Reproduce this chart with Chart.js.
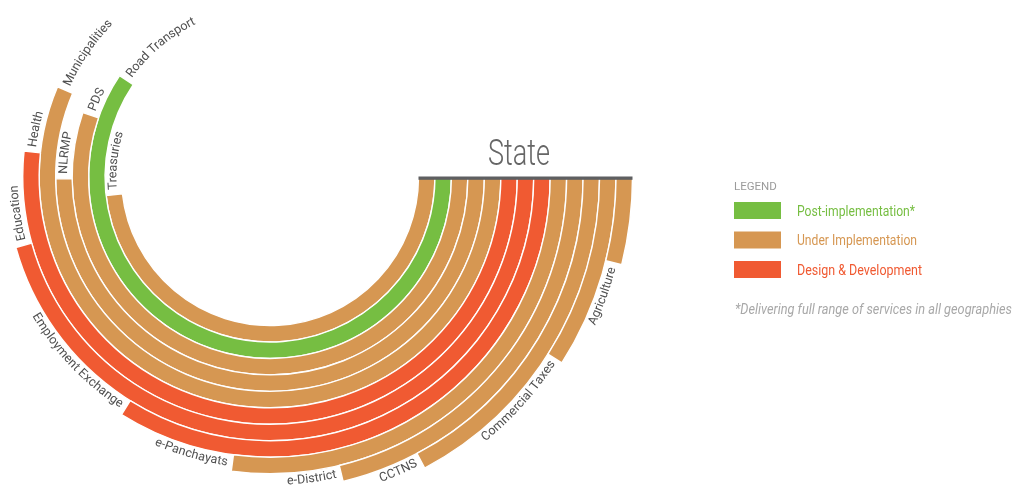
<!DOCTYPE html>
<html>
<head>
<meta charset="utf-8">
<script src="https://cdn.jsdelivr.net/npm/chart.js@4/dist/chart.umd.min.js"></script>
<style>
  html, body { margin: 0; padding: 0; background: #fff; overflow: hidden; }
  #wrap { position: relative; width: 1013px; height: 485px; }
</style>
</head>
<body>
<div id="wrap"><canvas id="chart-rings"></canvas></div>
<script>
// rings listed outer -> inner (Chart.js draws dataset 0 as the outer ring)
const services = ['Agriculture', 'Commercial Taxes', 'CCTNS', 'e-District', 'e-Panchayats',
  'Employment Exchange', 'Education', 'Health', 'Municipalities', 'NLRMP', 'PDS',
  'Road Transport', 'Treasuries'];
// sweep of each ring in degrees, clockwise from 3 o'clock
const sweep = [14, 32.5, 62, 76.5, 97.5, 122, 164.5, 186, 203, 179.5, 199, 214, 173.5];
const status = ['under', 'under', 'under', 'under', 'under', 'design', 'design', 'design',
  'under', 'under', 'under', 'post', 'under'];

const legendKeys = ['post', 'under', 'design'];
const legendLabels = ['Post-implementation*', 'Under Implementation', 'Design & Development'];
const statusColors = { post: '#76be42', under: '#d69752', design: '#f05a32' };

const LABEL_FONT = '12.5px Roboto, "Open Sans", sans-serif';

function drawArcText(ctx, text, cx, cy, r, end) {
  ctx.save();
  ctx.font = LABEL_FONT;
  ctx.fillStyle = '#4f4f4f';
  ctx.textAlign = 'center';
  ctx.textBaseline = 'middle';
  const gap = 5;
  const total = ctx.measureText(text).width;
  // lower half: text reads counter-clockwise and finishes at the arc end
  const below = end < Math.PI * 0.85;
  let a = below ? end + (gap + total) / r : end + gap / r;
  for (const ch of text) {
    const w = ctx.measureText(ch).width;
    const mid = below ? a - w / 2 / r : a + w / 2 / r;
    ctx.save();
    ctx.translate(cx + r * Math.cos(mid), cy + r * Math.sin(mid));
    ctx.rotate(below ? mid - Math.PI / 2 : mid + Math.PI / 2);
    ctx.fillText(ch, 0, 0);
    ctx.restore();
    a = below ? a - w / r : a + w / r;
  }
  ctx.restore();
}

const ringDecor = {
  id: 'ringDecor',
  afterDatasetsDraw(chart) {
    const ctx = chart.ctx;
    chart.data.datasets.forEach((ds, i) => {
      const arc = chart.getDatasetMeta(i).data[0];
      const p = arc.getProps(['x', 'y', 'endAngle', 'innerRadius', 'outerRadius'], true);
      drawArcText(ctx, services[i], p.x, p.y, (p.innerRadius + p.outerRadius) / 2, p.endAngle);
    });

    // "State" header with rule
    const first = chart.getDatasetMeta(0).data[0];
    const last = chart.getDatasetMeta(services.length - 1).data[0];
    const x0 = last.x + last.innerRadius;
    const x1 = first.x + first.outerRadius;
    ctx.save();
    ctx.fillStyle = '#5e5f61';
    ctx.fillRect(x0, first.y - 0.5, x1 - x0, 3.3);
    ctx.fillStyle = '#666';
    ctx.font = '300 36px Roboto, sans-serif';
    ctx.textAlign = 'center';
    ctx.textBaseline = 'alphabetic';
    ctx.fillText('State', 519, 165, 62);
    ctx.restore();

    // legend
    ctx.save();
    ctx.textAlign = 'left';
    ctx.textBaseline = 'alphabetic';
    ctx.fillStyle = '#9b9b9b';
    ctx.font = '11.5px Roboto, sans-serif';
    ctx.fillText('LEGEND', 734, 190, 43);
    const widths = [118, 120, 125];
    legendKeys.forEach((k, j) => {
      const top = 202 + j * 29.5;
      ctx.fillStyle = statusColors[k];
      ctx.fillRect(734, top, 47, 17);
      ctx.font = '14px Roboto, sans-serif';
      ctx.fillText(legendLabels[j], 797, top + 13.5, widths[j]);
    });
    ctx.fillStyle = '#a8a8a8';
    ctx.font = 'italic 14px Roboto, sans-serif';
    ctx.fillText('*Delivering full range of services in all geographies', 735, 314, 277);
    ctx.restore();
  }
};

const ctxRings = document.getElementById('chart-rings').getContext('2d');
new Chart(ctxRings, {
  type: 'doughnut',
  data: {
    labels: ['covered', 'rest'],
    datasets: services.map((name, i) => ({
      label: name,
      data: [sweep[i], 360 - sweep[i]],
      backgroundColor: [statusColors[status[i]], 'rgba(0,0,0,0)'],
      borderColor: '#fff',
      borderWidth: [1.4, 0],
      hoverOffset: 0,
      clip: false
    }))
  },
  options: {
    responsive: true,
    maintainAspectRatio: false,
    animation: false,
    events: [],
    rotation: 90,
    circumference: 360,
    radius: 362.5,
    cutout: (148.5 / 362.5 * 100) + '%',
    layout: { padding: { left: 0, top: 0, right: 473, bottom: 131 } },
    plugins: { legend: { display: false }, tooltip: { enabled: false } }
  },
  plugins: [ringDecor]
});
</script>
</body>
</html>
